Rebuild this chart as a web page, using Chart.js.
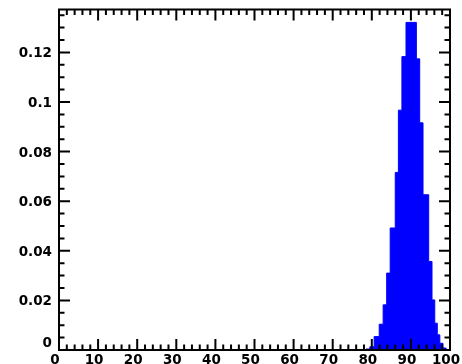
<!DOCTYPE html>
<html>
<head>
<meta charset="utf-8">
<script src="https://cdn.jsdelivr.net/npm/chart.js@4.4.1/dist/chart.umd.min.js"></script>
<style>
  html, body { margin: 0; padding: 0; background: #fff; }
  canvas { display: block; }
</style>
</head>
<body>
<canvas id="histo" width="462" height="364"></canvas>
<script>
// bin edges and bin contents
const binEdges = [77.5, 78.5, 79.5, 80.6, 81.9, 82.9, 83.8, 84.7, 86.0, 86.8, 87.7, 88.75,
                  91.4, 92.25, 93.1, 94.55, 95.4, 96.1, 96.75, 97.4, 98.2, 99.0];
const binValues = [0.0002, 0.0004, 0.0013, 0.0054, 0.0104, 0.0182, 0.031, 0.0492, 0.0716, 0.0967, 0.1183,
                   0.1321,
                   0.1174, 0.0916, 0.0626, 0.0357, 0.0202, 0.0108, 0.0061, 0.0027, 0.0008];
const xTicks = [0, 10, 20, 30, 40, 50, 60, 70, 80, 90, 100];
const yTicks = [0, 0.02, 0.04, 0.06, 0.08, 0.1, 0.12];
const xMinorStep = 2;
const yMinorStep = 0.005;
const yTop = 0.1373;

// stepped 'before': each edge carries the content of the bin to its right
const points = binEdges.map((e, i) => ({ x: e, y: i < binValues.length ? binValues[i] : 0 }));

const labelFont = { family: "'DejaVu Sans', sans-serif", size: 13.5, weight: 'bold' };

function noPad(s) {
    s.paddingTop = 0; s.paddingBottom = 0; s.paddingLeft = 0; s.paddingRight = 0;
}

// ROOT style frame with inward ticks on all four sides
const rootFrame = {
    id: 'rootFrame',
    afterDatasetsDraw(chart) {
        const { ctx, chartArea: a, scales: { x, y } } = chart;
        ctx.save();
        ctx.strokeStyle = '#000';
        ctx.lineWidth = 2;
        ctx.beginPath();
        const nx = Math.round((x.max - x.min) / xMinorStep);
        for (let i = 0; i <= nx; i++) {
            const v = x.min + i * xMinorStep;
            const px = x.getPixelForValue(v);
            const len = xTicks.includes(v) ? 11 : 5.5;
            ctx.moveTo(px, a.bottom); ctx.lineTo(px, a.bottom - len);
            ctx.moveTo(px, a.top); ctx.lineTo(px, a.top + len);
        }
        const ny = Math.floor(yTop / yMinorStep + 1e-6);
        for (let i = 0; i <= ny; i++) {
            const py = y.getPixelForValue(i * yMinorStep);
            const len = i % 4 === 0 ? 11 : 5.5;
            ctx.moveTo(a.left, py); ctx.lineTo(a.left + len, py);
            ctx.moveTo(a.right, py); ctx.lineTo(a.right - len, py);
        }
        ctx.stroke();
        ctx.strokeRect(a.left, a.top, a.right - a.left, a.bottom - a.top);
        ctx.restore();
    }
};

const ctx = document.getElementById('histo').getContext('2d');
const chart = new Chart(ctx, {
    type: 'line',
    data: {
        datasets: [{
            data: points,
            stepped: 'before',
            fill: 'origin',
            backgroundColor: '#0000ff',
            borderColor: '#0000ff',
            borderWidth: 1,
            pointRadius: 0
        }]
    },
    options: {
        responsive: false,
        animation: false,
        devicePixelRatio: 1,
        layout: { padding: { top: 9.5, right: 12, bottom: 0, left: 0 } },
        plugins: { legend: { display: false }, tooltip: { enabled: false } },
        scales: {
            x: {
                type: 'linear',
                min: 0,
                max: 100,
                grid: { display: false, drawTicks: false },
                border: { display: false },
                afterBuildTicks: (s) => { s.ticks = xTicks.map(v => ({ value: v })); },
                afterFit: (s) => { s.height = 14; noPad(s); },
                ticks: {
                    font: labelFont,
                    color: '#000',
                    padding: 2,
                    labelOffset: -4,
                    maxRotation: 0,
                    autoSkip: false
                }
            },
            y: {
                type: 'linear',
                min: 0,
                max: yTop,
                grid: { display: false, drawTicks: false },
                border: { display: false },
                afterBuildTicks: (s) => { s.ticks = yTicks.map(v => ({ value: v })); },
                afterFit: (s) => { s.width = 59; noPad(s); },
                ticks: {
                    font: labelFont,
                    color: '#000',
                    padding: 7,
                    labelOffset: 1.5,
                    autoSkip: false,
                    // the zero label sits a little higher, clear of the x axis "0"
                    callback: (v) => v === 0 ? ['0', ''] : String(+v.toFixed(3))
                }
            }
        }
    },
    plugins: [rootFrame]
});
</script>
</body>
</html>
